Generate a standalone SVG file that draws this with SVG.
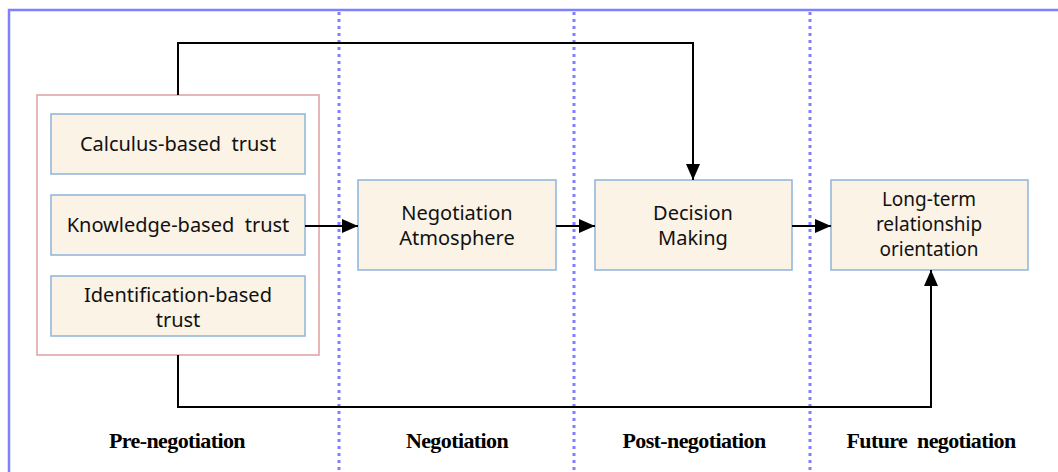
<svg xmlns="http://www.w3.org/2000/svg" width="1058" height="472" viewBox="0 0 1058 472">
<defs>
<marker id="ah" markerWidth="16" markerHeight="14" refX="16" refY="7" orient="auto" markerUnits="userSpaceOnUse">
<path d="M0,0 L16,7 L0,14 Z" fill="#000"/>
</marker>
<style>
.frame{fill:none;stroke:#8080ff;stroke-width:2.5}
.sep{stroke:#8080ff;stroke-width:3;stroke-dasharray:3 4;fill:none}
.grp{fill:#fff;stroke:#e0a0a0;stroke-width:1.5}
.box{fill:#fbf3e6;stroke:#8fb4dc;stroke-width:1.5}
.t{font-family:"Noto Sans","Open Sans",sans-serif;font-size:20px;fill:#111;text-anchor:middle;white-space:pre}
.s{font-size:19px}
.ph{font-family:"Liberation Serif","Times New Roman",serif;font-size:22px;font-weight:bold;fill:#000;text-anchor:middle;letter-spacing:-0.6px;white-space:pre}
.c{fill:none;stroke:#000;stroke-width:2}
</style>
</defs>
<rect width="1058" height="472" fill="#fff"/>
<path class="frame" d="M9,472 L9,10 L1058,10"/>
<line class="sep" x1="339" y1="12" x2="339" y2="472"/>
<line class="sep" x1="574" y1="12" x2="574" y2="472"/>
<line class="sep" x1="810" y1="12" x2="810" y2="472"/>
<g id="trust-group">
<rect class="grp" x="37" y="95" width="282" height="260"/>
</g>
<g id="calculus">
<rect class="box" x="51" y="114" width="254" height="60"/>
<text class="t" x="178" y="151" xml:space="preserve">Calculus-based  trust</text>
</g>
<g id="knowledge">
<rect class="box" x="51" y="195" width="254" height="60"/>
<text class="t" x="178" y="232" xml:space="preserve">Knowledge-based  trust</text>
</g>
<g id="identification">
<rect class="box" x="51" y="276" width="254" height="60"/>
<text class="t" x="178" y="302">Identification-based</text>
<text class="t" x="178" y="327">trust</text>
</g>
<g id="atmosphere">
<rect class="box" x="358" y="180" width="198" height="90"/>
<text class="t" x="457" y="220">Negotiation</text>
<text class="t" x="457" y="245">Atmosphere</text>
</g>
<g id="decision">
<rect class="box" x="595" y="180" width="197" height="90"/>
<text class="t" x="693" y="220">Decision</text>
<text class="t" x="693" y="245">Making</text>
</g>
<g id="longterm">
<rect class="box" x="831" y="180" width="197" height="90"/>
<text class="t s" x="929" y="206">Long-term</text>
<text class="t s" x="929" y="231">relationship</text>
<text class="t s" x="929" y="256">orientation</text>
</g>
<g id="connectors">
<line class="c" x1="305" y1="226" x2="358" y2="226" marker-end="url(#ah)"/>
<line class="c" x1="556" y1="226" x2="595" y2="226" marker-end="url(#ah)"/>
<line class="c" x1="792" y1="226" x2="831" y2="226" marker-end="url(#ah)"/>
<path class="c" d="M178,95 L178,43 L693,43 L693,180" marker-end="url(#ah)"/>
<path class="c" d="M178,355 L178,407 L931,407 L931,270" marker-end="url(#ah)"/>
</g>
<g id="phases">
<text class="ph" x="177" y="448">Pre-negotiation</text>
<text class="ph" x="457" y="448">Negotiation</text>
<text class="ph" x="694" y="448">Post-negotiation</text>
<text class="ph" x="931" y="448" xml:space="preserve">Future  negotiation</text>
</g>
</svg>
